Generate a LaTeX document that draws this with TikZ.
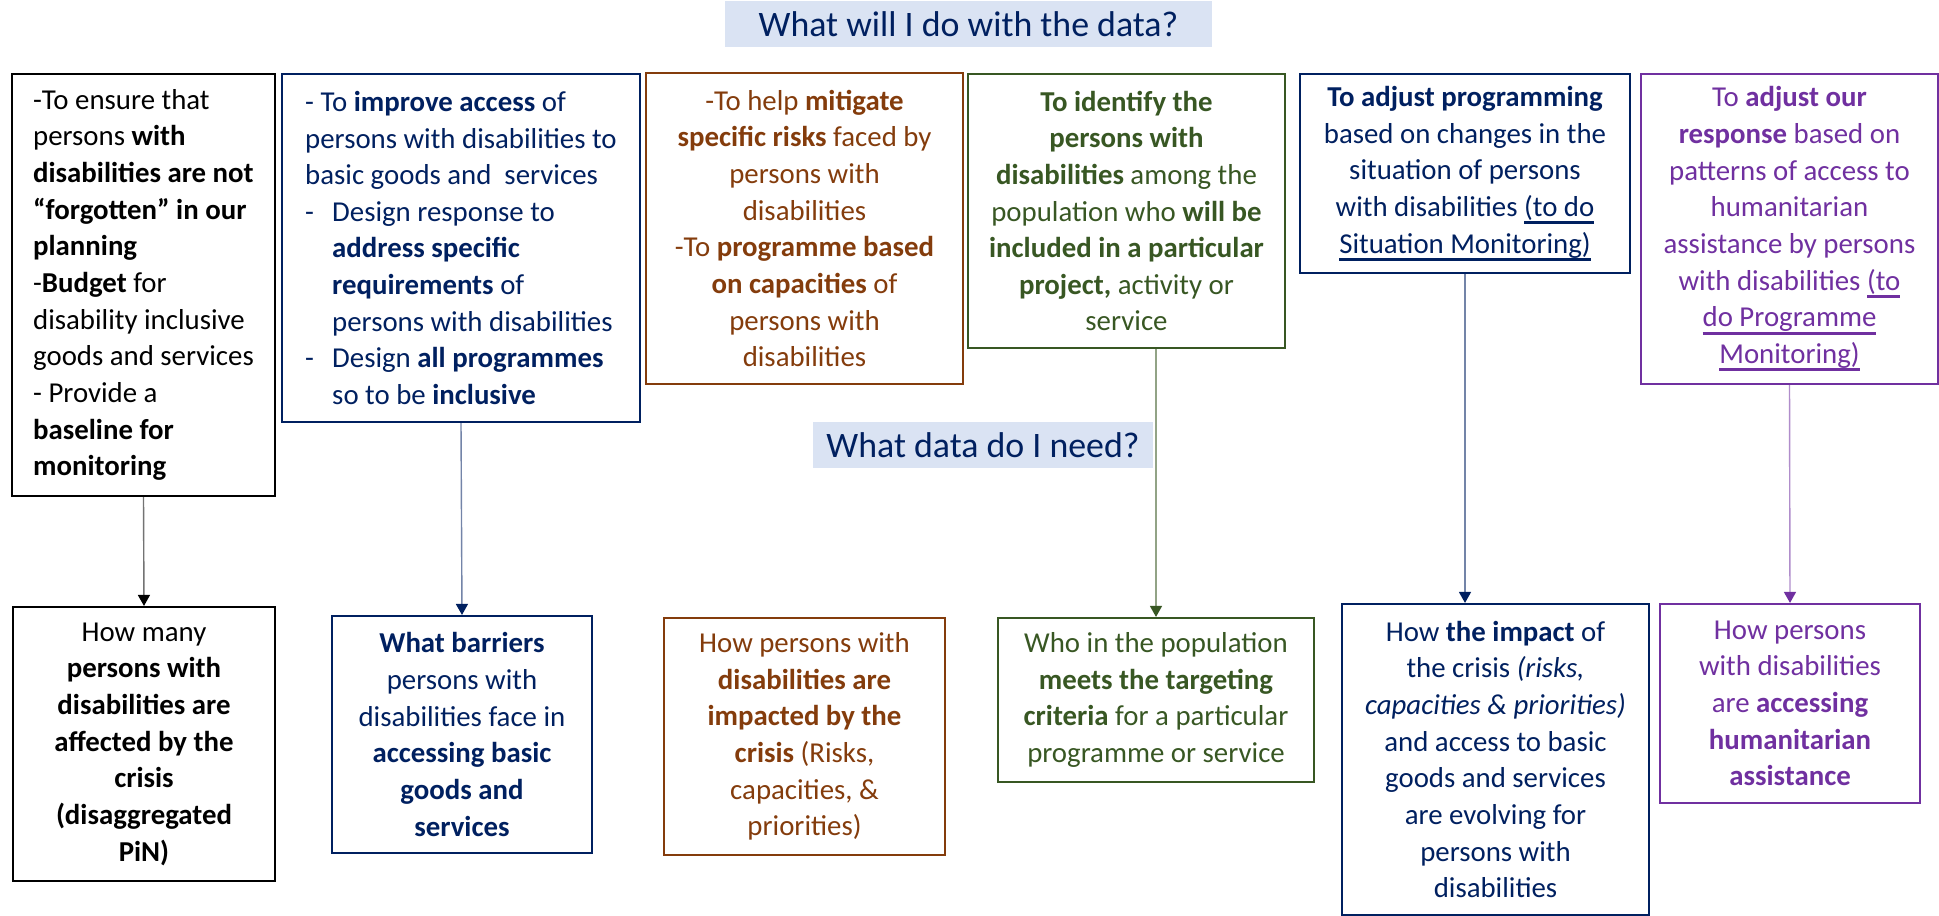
\documentclass[tikz,border=0pt]{standalone}
\usepackage{fontspec}
\setmainfont{Carlito}
\newfontfamily\headfont{Carlito}
\usetikzlibrary{positioning,arrows.meta}

\definecolor{navy}{HTML}{002060}
\definecolor{rust}{HTML}{843C0C}
\definecolor{leaf}{HTML}{385723}
\definecolor{plum}{HTML}{7030A0}
\definecolor{haze}{HTML}{DAE3F3}

\newcommand{\bodysize}{\fontsize{8.2}{10.43}\selectfont}
\newcommand{\undl}[1]{\leavevmode\setbox0\hbox{#1}\rlap{\rule[-2.2pt]{\wd0}{0.8pt}}\box0}
\newcommand{\dashitem}{\makebox[0.27cm][l]{-}}
\newcommand{\hangin}{\hspace*{0.27cm}}

\tikzset{
  flowarrow/.style={-{Triangle[length=1.1mm, width=1.2mm, color=#1]}, #1!55, line width=0.4pt},
  flowbox/.style={draw, line width=0.6pt, inner sep=0pt, align=center, font=\bodysize},
  inkblack/.style={draw=black, text=black},
  inknavy/.style={draw=navy, text=navy},
  inkrust/.style={draw=rust, text=rust},
  inkleaf/.style={draw=leaf, text=leaf},
  inkplum/.style={draw=plum, text=plum},
  headlabel/.style={fill=haze, text=navy, inner sep=0pt, minimum height=0.46cm, font=\headfont\fontsize{10.2}{12}\selectfont}
}

\begin{document}
\begin{tikzpicture}
  \path[use as bounding box, fill=white] (0,0) rectangle (19.39,-9.16);

  % questions
  \node[headlabel, minimum width=4.87cm] (doq) at (9.685,-0.24) {What will I do with the data?};
  \node[headlabel, minimum width=3.40cm] (needq) at (9.83,-4.45) {What data do I need?};

  % what the data is for
  \node[flowbox, inkblack, align=left, minimum width=2.63cm, minimum height=4.22cm] (a1) at (1.435,-2.85)
    {-To ensure that\\ persons \textbf{with}\\ \textbf{disabilities are not}\\ \textbf{“forgotten” in our}\\ \textbf{planning}\\
     -\textbf{Budget} for\\ disability inclusive\\ goods and services\\ - Provide a\\ \textbf{baseline for}\\ \textbf{monitoring}};
  \node[flowbox, inknavy, align=left, minimum width=3.58cm, minimum height=3.48cm] (a2) at (4.61,-2.48)
    {- To \textbf{improve access} of\\ persons with disabilities to\\ basic goods and \ services\\
     \dashitem Design response to\\ \hangin\textbf{address specific}\\ \hangin\textbf{requirements} of\\ \hangin persons with disabilities\\
     \dashitem Design \textbf{all programmes}\\ \hangin so to be \textbf{inclusive}};
  \node[flowbox, inkrust, minimum width=3.17cm, minimum height=3.11cm] (a3) at (8.045,-2.285)
    {-To help \textbf{mitigate}\\ \textbf{specific risks} faced by\\ persons with\\ disabilities\\
     -To \textbf{programme based}\\ \textbf{on capacities} of\\ persons with\\ disabilities};
  \node[flowbox, inkleaf, minimum width=3.17cm, minimum height=2.74cm] (a4) at (11.265,-2.11)
    {\textbf{To identify the}\\ \textbf{persons with}\\ \textbf{disabilities} among the\\ population who \textbf{will be}\\
     \textbf{included in a particular}\\ \textbf{project,} activity or\\ service};
  \node[flowbox, inknavy, minimum width=3.30cm, minimum height=1.99cm] (a5) at (14.65,-1.735)
    {\textbf{To adjust programming}\\ based on changes in the\\ situation of persons\\
     with disabilities \undl{(to do}\\ \undl{Situation Monitoring)}};
  \node[flowbox, inkplum, minimum width=2.97cm, minimum height=3.10cm] (a6) at (17.895,-2.29)
    {To \textbf{adjust our}\\ \textbf{response} based on\\ patterns of access to\\ humanitarian\\
     assistance by persons\\ with disabilities \undl{(to}\\ \undl{do Programme}\\ \undl{Monitoring)}};

  % data needed
  \node[flowbox, inkblack, minimum width=2.62cm, minimum height=2.74cm] (b1) at (1.44,-7.44)
    {How many\\ \textbf{persons with}\\ \textbf{disabilities are}\\ \textbf{affected by the}\\ \textbf{crisis}\\
     \textbf{(disaggregated}\\ \textbf{PiN)}};
  \node[flowbox, inknavy, minimum width=2.60cm, minimum height=2.37cm] (b2) at (4.62,-7.345)
    {\textbf{What barriers}\\ persons with\\ disabilities face in\\ \textbf{accessing basic}\\ \textbf{goods and}\\ \textbf{services}};
  \node[flowbox, inkrust, minimum width=2.81cm, minimum height=2.37cm] (b3) at (8.045,-7.365)
    {How persons with\\ \textbf{disabilities are}\\ \textbf{impacted by the}\\ \textbf{crisis} (Risks,\\ capacities, \&\\ priorities)};
  \node[flowbox, inkleaf, minimum width=3.16cm, minimum height=1.64cm] (b4) at (11.56,-7.00)
    {Who in the population\\ \textbf{meets the targeting}\\ \textbf{criteria} for a particular\\ programme or service};
  \node[flowbox, inknavy, minimum width=3.07cm, minimum height=3.11cm] (b5) at (14.955,-7.595)
    {How \textbf{the impact} of\\ the crisis \textit{(risks,}\\ \textit{capacities \& priorities)}\\ and access to basic\\
     goods and services\\ are evolving for\\ persons with\\ disabilities};
  \node[flowbox, inkplum, minimum width=2.60cm, minimum height=1.99cm] (b6) at (17.90,-7.035)
    {How persons\\ with disabilities\\ are \textbf{accessing}\\ \textbf{humanitarian}\\ \textbf{assistance}};

  \draw[flowarrow=black] (a1.south) -- (b1.north);
  \draw[flowarrow=navy] (a2.south) -- (b2.north);
  \draw[flowarrow=leaf] (a4.south -| b4.north) -- (b4.north);
  \draw[flowarrow=navy] (a5.south) -- (a5.south |- b5.north);
  \draw[flowarrow=plum] (a6.south) -- (b6.north);
\end{tikzpicture}
\end{document}
